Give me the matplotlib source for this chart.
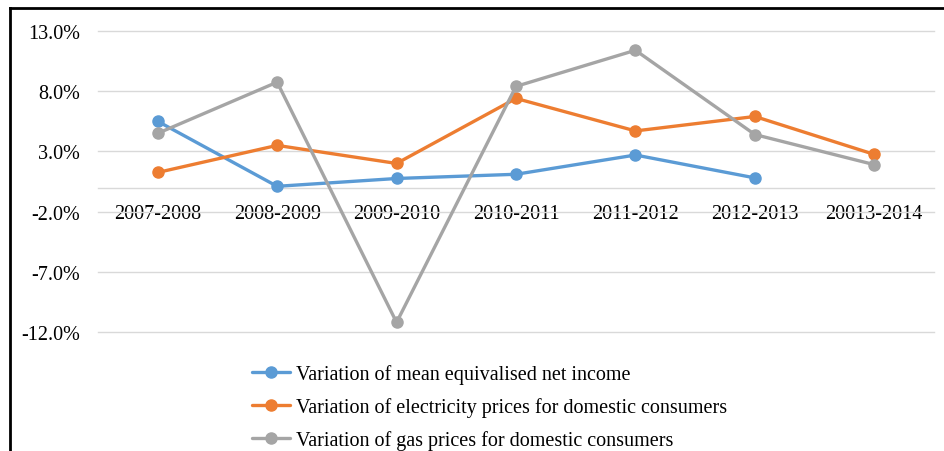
import matplotlib
matplotlib.use("Agg")
import matplotlib.pyplot as plt
from matplotlib.lines import Line2D
from matplotlib.ticker import FuncFormatter
import numpy as np

categories = ["2007-2008", "2008-2009", "2009-2010", "2010-2011", "2011-2012", "2012-2013", "20013-2014"]
income = [5.5, 0.1, 0.75, 1.1, 2.7, 0.8, None]
electricity = [1.25, 3.5, 2.0, 7.4, 4.7, 5.9, 2.75]
gas = [4.5, 8.75, -11.2, 8.4, 11.4, 4.4, 1.9]
labels = ["Variation of mean equivalised net income",
          "Variation of electricity prices for domestic consumers",
          "Variation of gas prices for domestic consumers"]
colors = ["#5B9BD5", "#ED7D31", "#A5A5A5"]
yticks = [-12, -7, -2, 3, 8, 13]

plt.rcParams['font.family'] = ['Liberation Serif', 'DejaVu Serif']

W, H = 944, 452
fig = plt.figure(figsize=(W/100, H/100), dpi=100)
ax = fig.add_axes([98/W, 1-333/H, (934-98)/W, (333-32)/H])

x = np.arange(len(categories))
handles = []
for vals, c, lab in zip([income, electricity, gas], colors, labels):
    y = np.array([np.nan if v is None else v for v in vals], dtype=float)
    h, = ax.plot(x, y, color=c, lw=2.4, marker='o', ms=8, label=lab,
                 solid_capstyle='round', zorder=3)
    handles.append(h)

ax.set_xlim(-0.5, len(categories)-0.5)
ax.set_ylim(-12, 13)
ax.set_yticks(yticks)
ax.yaxis.set_major_formatter(FuncFormatter(lambda v, p: f"{v:.1f}%"))
ax.grid(axis='y', color='#d9d9d9', lw=1)
for gl in ax.get_ygridlines():
    gl.set_clip_on(False)
ax.set_axisbelow(True)
for s in ['top', 'right', 'left']:
    ax.spines[s].set_visible(False)
ax.spines['bottom'].set_position(('data', 0))
ax.spines['bottom'].set_color('#d9d9d9')
ax.spines['bottom'].set_linewidth(1)
ax.set_xticks(x)
ax.set_xticklabels(categories)
ax.tick_params(axis='x', length=0, pad=12, labelsize=14.5)
ax.tick_params(axis='y', length=0, pad=13, labelsize=14.5)

fig.legend(handles=handles, labels=labels, loc='upper left',
           bbox_to_anchor=(252/W, 1-365/H), frameon=False, fontsize=14.5,
           handlelength=1.9, handletextpad=0.28, labelspacing=0.66,
           borderaxespad=0, borderpad=0)

fig.add_artist(Line2D([10/W, 1], [1-9/H, 1-9/H], color='black', lw=2, transform=fig.transFigure))
fig.add_artist(Line2D([10/W, 10/W], [0, 1-9/H], color='black', lw=2, transform=fig.transFigure))

fig.savefig("out.png", dpi=100)
